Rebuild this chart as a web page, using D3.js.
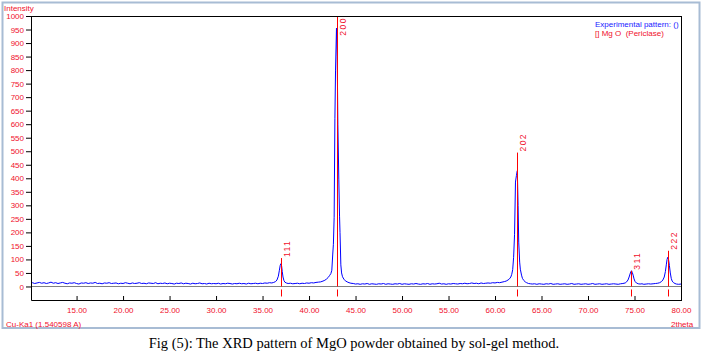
<!DOCTYPE html>
<html>
<head>
<meta charset="utf-8">
<script src="https://cdn.jsdelivr.net/npm/d3@7"></script>
<style>
  html, body { margin: 0; padding: 0; background: #fff; }
  svg { display: block; }
</style>
</head>
<body>
<div id="chart-container"></div>
<script>
// measured scan: [2theta, counts]
const pattern = [
  [10.1,12],[10.25,14],[10.5,11],[10.75,13],[11,15],[11.25,12],[11.5,14],[11.75,11],
  [12,13],[12.25,16],[12.5,12],[12.75,14],[13,11],[13.25,13],[13.5,15],[13.75,12],
  [14,10],[14.25,13],[14.5,12],[14.75,14],[15,11],[15.25,9],[15.5,13],[15.75,12],
  [16,14],[16.25,11],[16.5,13],[16.75,12],[17,15],[17.25,11],[17.5,12],[17.75,10],
  [18,13],[18.25,12],[18.5,14],[18.75,11],[19,12],[19.25,13],[19.5,10],[19.75,12],
  [20,11],[20.25,14],[20.5,12],[20.75,10],[21,13],[21.25,11],[21.5,12],[21.75,14],
  [22,11],[22.25,12],[22.5,10],[22.75,13],[23,12],[23.25,11],[23.5,14],[23.75,10],
  [24,12],[24.25,11],[24.5,13],[24.75,10],[25,12],[25.25,11],[25.5,9],[25.75,12],
  [26,11],[26.25,13],[26.5,10],[26.75,12],[27,11],[27.25,9],[27.5,12],[27.75,10],
  [28,11],[28.25,13],[28.5,10],[28.75,11],[29,9],[29.25,12],[29.5,10],[29.75,11],
  [30,10],[30.25,12],[30.5,9],[30.75,11],[31,10],[31.25,12],[31.5,11],[31.75,9],
  [32,11],[32.25,10],[32.5,12],[32.75,10],[33,11],[33.25,9],[33.5,12],[33.75,10],
  [34,11],[34.25,12],[34.5,10],[34.75,12],[35,11],[35.25,13],[35.5,12],[35.75,14],
  // (111)
  [36,13],[36.2,15],[36.4,18],[36.55,24],[36.7,38],[36.8,58],[36.9,78],[36.97,84],
  [37.05,76],[37.12,55],[37.2,35],[37.3,22],[37.4,16],[37.55,13],[37.75,11],
  [38,12],[38.25,10],[38.5,11],[38.75,12],[39,10],[39.25,12],[39.5,11],[39.75,13],
  [40,12],[40.25,14],[40.5,13],[40.75,15],[41,16],[41.25,17],[41.5,20],[41.7,23],
  // (200)
  [41.9,28],[42.05,33],[42.2,40],[42.35,48],[42.45,60],[42.55,120],[42.62,156],[42.7,256],
  [42.78,620],[42.85,800],[42.95,955],[43.03,850],[43.1,600],[43.2,397],[43.28,260],[43.33,200],
  [43.42,80],[43.5,50],[43.6,36],[43.75,27],[43.9,21],[44.1,17],[44.3,14],[44.5,12],
  [44.75,11],[45,9],[45.25,10],[45.5,8],[45.75,10],[46,9],[46.25,11],[46.5,8],
  [46.75,10],[47,9],[47.25,8],[47.5,10],[47.75,9],[48,11],[48.25,8],[48.5,10],
  [48.75,9],[49,8],[49.25,10],[49.5,9],[49.75,11],[50,8],[50.25,10],[50.5,9],
  [50.75,8],[51,10],[51.25,9],[51.5,11],[51.75,9],[52,8],[52.25,10],[52.5,9],
  [52.75,11],[53,8],[53.25,10],[53.5,9],[53.75,10],[54,12],[54.25,9],[54.5,10],
  [54.75,8],[55,10],[55.25,9],[55.5,11],[55.75,10],[56,9],[56.25,11],[56.5,10],
  [56.75,12],[57,10],[57.25,11],[57.5,13],[57.75,11],[58,12],[58.25,10],[58.5,13],
  [58.75,11],[59,12],[59.25,13],[59.5,12],[59.75,14],[60,13],[60.25,15],[60.5,14],
  // (202)
  [60.75,16],[61,18],[61.2,20],[61.4,24],[61.55,28],[61.7,35],[61.8,45],[61.9,62],
  [62.0,108],[62.1,193],[62.2,386],[62.3,410],[62.4,428],[62.48,300],[62.55,164],[62.65,90],
  [62.72,64],[62.85,42],[62.95,30],[63.1,22],[63.25,17],[63.4,14],[63.6,11],[63.8,10],
  [64,9],[64.25,10],[64.5,8],[64.75,10],[65,9],[65.25,8],[65.5,10],[65.75,9],
  [66,11],[66.25,8],[66.5,9],[66.75,10],[67,8],[67.25,9],[67.5,10],[67.75,8],
  [68,9],[68.25,11],[68.5,8],[68.75,9],[69,10],[69.25,8],[69.5,9],[69.75,10],
  [70,8],[70.25,9],[70.5,11],[70.75,8],[71,9],[71.25,10],[71.5,8],[71.75,9],
  [72,10],[72.25,8],[72.5,9],[72.75,10],[73,9],[73.25,8],[73.5,10],[73.75,11],
  // (311)
  [74,13],[74.15,17],[74.3,24],[74.42,35],[74.52,46],[74.6,54],[74.68,58],[74.76,52],
  [74.85,42],[74.95,28],[75.05,19],[75.2,13],[75.4,10],[75.6,9],[75.8,10],[76,8],
  [76.25,9],[76.5,10],[76.75,9],[77,10],[77.25,11],[77.5,12],[77.7,14],[77.9,18],
  // (222)
  [78.05,24],[78.2,35],[78.32,55],[78.42,80],[78.5,100],[78.58,108],[78.66,100],[78.75,78],
  [78.85,50],[78.95,30],[79.05,20],[79.2,14],[79.35,11],[79.5,9],[79.75,8],[80,9]
];

// MgO (Periclase) reference lines
const refLabels = ['111', '200', '202', '311', '222'];
const refTheta = [37.0, 43.0, 62.34, 74.65, 78.6];
const refIntensity = [105, 1000, 495, 58, 132];

const xTicks = [15, 20, 25, 30, 35, 40, 45, 50, 55, 60, 65, 70, 75, 80];
const yTicks = [0, 50, 100, 150, 200, 250, 300, 350, 400, 450, 500,
                550, 600, 650, 700, 750, 800, 850, 900, 950, 1000];

const caption = 'Fig (5): The XRD pattern of MgO powder obtained by sol-gel method.';

const RED = '#f0102c';
const FONT = "'Liberation Sans', Arial, sans-serif";

const svg = d3.select('#chart-container')
    .append('svg')
    .attr('width', 706)
    .attr('height', 352);

// outer frame of the exported plot
svg.append('rect')
    .attr('x', 2.5).attr('y', 2.5)
    .attr('width', 697).attr('height', 325.5)
    .attr('fill', 'none')
    .attr('stroke', '#a8bcd4')
    .attr('stroke-width', 2);

const x = d3.scaleLinear().domain([10.1, 80]).range([31, 681]);
const y = d3.scaleLinear().domain([-50, 1000]).range([300, 16]);

// zero line
svg.append('line')
    .attr('x1', 31).attr('x2', 681)
    .attr('y1', Math.round(y(0)) + 0.5).attr('y2', Math.round(y(0)) + 0.5)
    .attr('stroke', '#808080')
    .attr('stroke-width', 1);

// measured pattern
const line = d3.line()
    .x(d => x(d[0]))
    .y(d => y(d[1]));

svg.append('path')
    .datum(pattern)
    .attr('fill', 'none')
    .attr('stroke', '#0000ff')
    .attr('stroke-width', 1)
    .attr('d', line);

// reference sticks + labels
refTheta.forEach((t, i) => {
    const px = Math.round(x(t)) + 0.5;
    const top = y(refIntensity[i]);
    svg.append('line')
        .attr('x1', px).attr('x2', px)
        .attr('y1', y(0)).attr('y2', top)
        .attr('stroke', '#ff0000')
        .attr('stroke-width', 1);
    svg.append('line')
        .attr('x1', px).attr('x2', px)
        .attr('y1', y(0) + 3).attr('y2', y(0) + 10)
        .attr('stroke', '#ff0000')
        .attr('stroke-width', 1);

    const clamp = top - 18 < 16;
    const ly = clamp ? 17 : top - 1;
    svg.append('text')
        .attr('transform', `translate(${px + 8.5},${ly}) rotate(-90)`)
        .attr('text-anchor', clamp ? 'end' : 'start')
        .style('font-family', FONT)
        .style('font-size', '8.5px')
        .style('letter-spacing', '1.5px')
        .style('fill', RED)
        .text(refLabels[i]);
});

// axes
const xAxis = svg.append('g')
    .attr('transform', 'translate(0,300)')
    .call(d3.axisBottom(x).tickValues(xTicks).tickSize(-4).tickSizeOuter(0)
        .tickPadding(7).tickFormat(d3.format('.2f')));

const yAxis = svg.append('g')
    .attr('transform', 'translate(31,0)')
    .call(d3.axisLeft(y).tickValues(yTicks).tickSize(5).tickSizeOuter(0)
        .tickPadding(2).tickFormat(d3.format('d')));

[xAxis, yAxis].forEach(a => {
    a.selectAll('path, line').attr('stroke', '#000');
    a.selectAll('text')
        .style('font-family', FONT)
        .style('font-size', '8px')
        .style('fill', RED);
});

// top and right edges of the plot box
svg.append('line')
    .attr('x1', 31).attr('x2', 682)
    .attr('y1', 16.5).attr('y2', 16.5)
    .attr('stroke', '#000');
svg.append('line')
    .attr('x1', 681.5).attr('x2', 681.5)
    .attr('y1', 16).attr('y2', 301)
    .attr('stroke', '#000');

// titles
const label = (tx, ty, txt, color, anchor) => svg.append('text')
    .attr('x', tx).attr('y', ty)
    .attr('text-anchor', anchor || 'start')
    .style('font-family', FONT)
    .style('font-size', '8px')
    .style('fill', color)
    .text(txt);

label(4, 11, 'Intensity', RED);
label(6, 327, 'Cu-Ka1 (1.540598 A)', RED);
label(671, 327, '2theta', RED);
label(595, 27, 'Experimental pattern: ()', '#1a1aff');
label(595, 36, '[] Mg O  (Periclase)', RED).style('white-space', 'pre');

svg.append('text')
    .attr('x', 354)
    .attr('y', 348)
    .attr('text-anchor', 'middle')
    .style('font-family', "'Liberation Serif', 'Times New Roman', serif")
    .style('font-size', '14.5px')
    .style('fill', '#000')
    .text(caption);
</script>
</body>
</html>
